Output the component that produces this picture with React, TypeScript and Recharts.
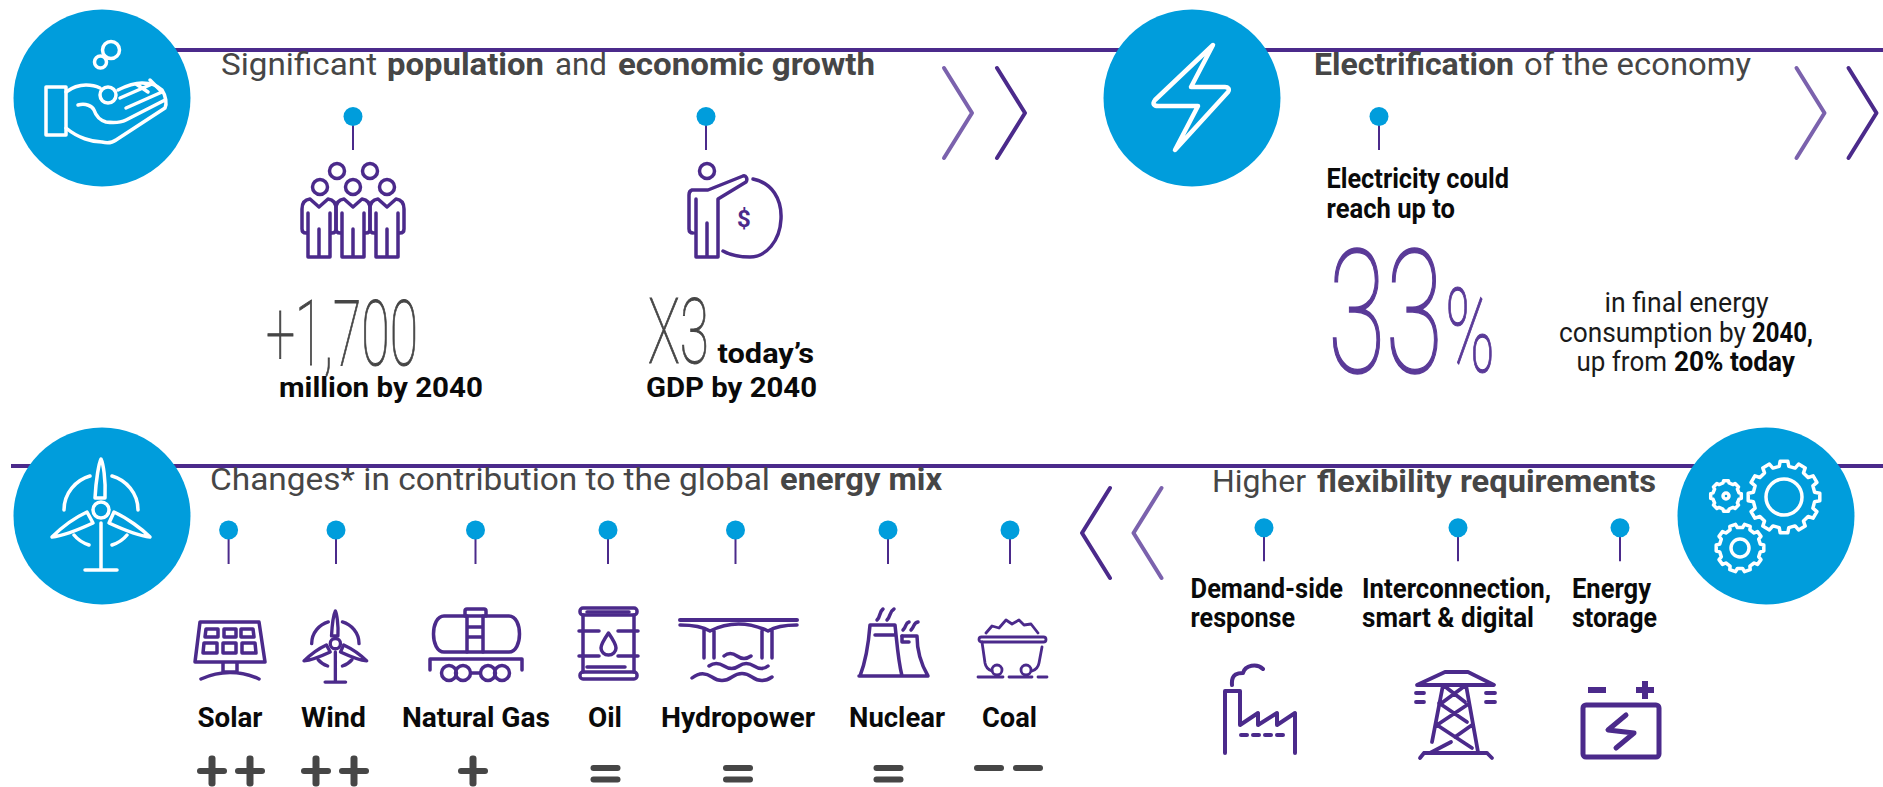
import React from 'react';
import { ComposedChart, ReferenceLine, Scatter, XAxis, YAxis } from 'recharts';

const WIDTH = 1883;
const HEIGHT = 787;
const BLUE = '#009ddc';
const PURPLE = '#4b2a8b';
const LIGHT_PURPLE = '#7b62ad';
const GREY = '#464646';

// energy sources and how their share changes
const SOURCES = ['Solar', 'Wind', 'Natural Gas', 'Oil', 'Hydropower', 'Nuclear', 'Coal'];
const RATINGS = ['++', '++', '+', '=', '=', '=', '--'];
const SOURCE_X1 = [197.5, 301, 402, 588, 661, 849, 982];
const SOURCE_X2 = [262.5, 366, 550, 622, 815, 945, 1037];
const RATING_X = [231, 335, 473, 605.5, 738, 888.5, 1008.5];

const PIN_TOP = [353, 706, 1379];
const PIN_MIX = [228.6, 336, 475.5, 608, 735.5, 888, 1010];
const PIN_FLEX = [1264, 1458, 1620];

const BADGES = [
  { x: 102, y: 98, icon: 'hand' },
  { x: 1192, y: 98, icon: 'bolt' },
  { x: 102, y: 516, icon: 'turbine' },
  { x: 1766, y: 516, icon: 'gears' },
];

const ICONS = [
  { x: 302, y: 163, icon: 'people' },
  { x: 688, y: 163, icon: 'money' },
  { x: 194, y: 620, icon: 'solar' },
  { x: 304, y: 611, icon: 'wind' },
  { x: 429, y: 609, icon: 'tank' },
  { x: 579, y: 607, icon: 'barrel' },
  { x: 680, y: 618, icon: 'hydro' },
  { x: 859, y: 608, icon: 'nuclear' },
  { x: 978, y: 619, icon: 'coal' },
  { x: 1225, y: 663, icon: 'factory' },
  { x: 1416, y: 671, icon: 'tower' },
  { x: 1581, y: 681, icon: 'battery' },
];

const CHEVRONS = [
  { x: 944, y: 68, dir: 1, color: LIGHT_PURPLE },
  { x: 997, y: 68, dir: 1, color: PURPLE },
  { x: 1796.5, y: 68, dir: 1, color: LIGHT_PURPLE },
  { x: 1848.5, y: 68, dir: 1, color: PURPLE },
  { x: 1110, y: 488, dir: -1, color: PURPLE },
  { x: 1161.5, y: 488, dir: -1, color: LIGHT_PURPLE },
];

const STYLES: Record<string, any> = {
  head: { size: 32, weight: 400, fill: GREY },
  headBold: { size: 32, weight: 700, fill: GREY },
  big: { size: 90, weight: 100, fill: GREY, thicken: 1 },
  label: { size: 27, weight: 700, fill: '#0a0a0a' },
  body: { size: 27, weight: 400, fill: '#1a1a1a' },
  num: { size: 173, weight: 100, fill: '#5a3a98', thicken: 1.6 },
  pct: { size: 116, weight: 100, fill: '#5a3a98', thicken: 1.2 },
};

// text, left, right, baseline, style
const RUNS: [string, number, number, number, string][] = [
  ['Significant', 221, 377, 75, 'head'],
  ['population', 387, 544, 75, 'headBold'],
  ['and', 555, 607, 75, 'head'],
  ['economic growth', 618, 875, 75, 'headBold'],
  ['Electrification', 1314, 1514, 75, 'headBold'],
  ['of the economy', 1524, 1751, 75, 'head'],
  ['Changes* in contribution to the global', 210, 770, 490, 'head'],
  ['energy mix', 780, 942, 490, 'headBold'],
  ['Higher', 1212, 1306, 492, 'head'],
  ['flexibility requirements', 1317, 1656, 492, 'headBold'],
  ['+1,700', 266, 418, 365, 'big'],
  ['million by 2040', 279, 483, 397, 'label'],
  ['X3', 648, 709, 363, 'big'],
  ['today\u2019s', 717.5, 814, 363, 'label'],
  ['GDP by 2040', 646, 817, 397, 'label'],
  ['Electricity could', 1326.5, 1509, 188, 'label'],
  ['reach up to', 1326.5, 1455, 218, 'label'],
  ['33', 1328, 1443, 372, 'num'],
  ['%', 1445, 1495, 372, 'pct'],
  ['in final energy', 1604.5, 1768.5, 312, 'body'],
  ['consumption by', 1559, 1746, 342, 'body'],
  ['2040,', 1752, 1813, 342, 'label'],
  ['up from', 1576.5, 1667, 371, 'body'],
  ['20% today', 1674, 1795, 371, 'label'],
  ['Demand-side', 1190.6, 1343, 598, 'label'],
  ['response', 1190.6, 1295, 627, 'label'],
  ['Interconnection,', 1362, 1551, 598, 'label'],
  ['smart & digital', 1362, 1534, 627, 'label'],
  ['Energy', 1572, 1651, 598, 'label'],
  ['storage', 1572, 1657, 627, 'label'],
];

const textData = [
  ...RUNS.map(([text, x, x2, y, style]) => ({ text, x, x2, y, style })),
  ...SOURCES.map((text, i) => ({ text, x: SOURCE_X1[i], x2: SOURCE_X2[i], y: 727, style: 'label' })),
];
const pinData = [
  ...PIN_TOP.map((x) => ({ x, y: 116.5, stem: 33.5 })),
  ...PIN_MIX.map((x) => ({ x, y: 530, stem: 34 })),
  ...PIN_FLEX.map((x) => ({ x, y: 527.7, stem: 33.5 })),
];
const ratingData = RATINGS.map((rating, i) => ({ x: RATING_X[i], y: 771, rating }));

const gearPath = (cx: number, cy: number, r: number, teeth: number) => {
  const root = r * 0.86;
  const step = (Math.PI * 2) / teeth;
  let d = '';
  for (let i = 0; i < teeth; i++) {
    const a = i * step;
    const pts = [
      [root, a - step * 0.3],
      [r, a - step * 0.2],
      [r, a + step * 0.2],
      [root, a + step * 0.3],
    ];
    pts.forEach(([rad, ang], j) => {
      d += `${i === 0 && j === 0 ? 'M' : 'L'}${(cx + rad * Math.cos(ang)).toFixed(1)} ${(cy + rad * Math.sin(ang)).toFixed(1)}`;
    });
  }
  return d + 'Z';
};

const Turbine = () => (
  <>
    <circle cx={49} cy={51} r={8} />
    <path d="M43 39C44 20 47 4 49 0C51 4 54 20 53 39Z" />
    <path d="M35 53C22 59 8 70 0 78C10 77 28 70 41 64Z" />
    <path d="M62 53C75 59 90 70 98 78C88 77 70 70 57 64Z" />
    <path d="M49 64V111M33 111H65M12 51C12 34 24 21 38 17M86 51C86 34 74 21 60 17M22 76C26 81 31 84 37 86M75 76C71 81 66 84 60 86" />
  </>
);

const iconArt: Record<string, React.ReactNode> = {
  hand: (
    <>
      <circle cx={65} cy={10} r={8.5} />
      <circle cx={54.5} cy={22} r={6} />
      <circle cx={62} cy={55} r={8} />
      <rect x={0} y={47} width={20} height={48} />
      <path d="M20 52C28 46 34 45 40 45C46 45 50 46 54 48M72 50C80 46 90 43 96 43C104 43 112 46 116 50C120 56 121 64 119 68L70 100C66 103 60 103 56 102C46 102 32 98 20 88" />
      <path d="M32 65C40 63 46 66 48 70C50 76 53 80 60 82C68 83 76 82 80 80L119 60M74 58L106 44M80 68L116 52M90 44L102 52M104 40L114 50" />
    </>
  ),
  bolt: <path d="M60 1L2 56C-1 60 1 62 5 62H45L22 106L75 48C77 45 75 43 72 43H38Z" strokeWidth={4.5} />,
  turbine: <Turbine />,
  gears: (
    <>
      <path d={gearPath(54, 37, 36, 12)} />
      <ellipse cx={54} cy={37} rx={18} ry={18} />
      <path d={gearPath(-4, 36, 15.5, 8)} />
      <circle cx={-4} cy={36} r={3} />
      <path d={gearPath(10, 88, 24, 10)} />
      <circle cx={10} cy={88} r={9} />
    </>
  ),
  people: (
    <>
      {[[35, 8], [68, 8], [18, 24], [51, 24], [85, 24]].map(([cx, cy]) => (
        <circle key={`${cx}-${cy}`} cx={cx} cy={cy} r={7.5} />
      ))}
      {[17, 51, 85].map((c) => (
        <path
          key={c}
          d={`M${c - 9} 36L${c} 44L${c + 9} 36M${c - 9} 36Q${c - 17} 37 ${c - 17} 46V66Q${c - 17} 70 ${c - 13} 70M${c + 9} 36Q${c + 17} 37 ${c + 17} 46V66Q${c + 17} 70 ${c + 13} 70M${c - 11} 50V94H${c + 11}V50M${c} 66V94`}
        />
      ))}
    </>
  ),
  money: (
    <>
      <circle cx={19} cy={8} r={7.5} />
      <path d="M4 27H20L55 13C58 12 60 16 58 19L30 36V94H8V36M4 27Q1 28 1 32V66Q1 70 5 70M19 60V94" />
      <path d="M65 16C84 20 94 36 93 56C92 78 78 94 62 94C52 94 42 92 35 88" />
      <text x={56} y={64} fontFamily="Roboto" fontWeight={700} fontSize={24} textAnchor="middle" fill={PURPLE} stroke="none">
        $
      </text>
    </>
  ),
  solar: (
    <>
      <path d="M6 2H65L71 42H1Z" />
      <path d="M12 9H24V17H11ZM30 9H42V17H30ZM47 9H59L60 17H47ZM10 23H23V33H9ZM29 23H42V33H29ZM48 23H61L62 33H48Z" />
      <path d="M29 43V52H43V43M7 59Q36 46 65 59" />
    </>
  ),
  wind: (
    <g transform="scale(0.64)" strokeWidth={5.2}>
      <Turbine />
    </g>
  ),
  tank: (
    <>
      <path d="M15 7H80C94 7 94 43 80 43H15C1 43 1 7 15 7Z" />
      <path d="M38 7V43M54 7V43M38 18H54M38 28H54M36 7V2Q36 0 38 0H55Q57 0 57 2V7" />
      <path d="M1 61V50H93V61" />
      <circle cx={20} cy={64} r={7.5} />
      <circle cx={34} cy={64} r={7.5} />
      <circle cx={59} cy={64} r={7.5} />
      <circle cx={73} cy={64} r={7.5} />
      <path d="M42 64H51" />
    </>
  ),
  barrel: (
    <>
      <rect x={1} y={1} width={57} height={7} rx={3} />
      <rect x={1} y={65} width={57} height={7} rx={3} />
      <path d="M8 5H50M8 60H46M4 8V65M55 8V65M0 24H20M39 24H59M0 49H20M39 49H59" />
      <path d="M29.5 26C24 34 22 38 22 41A7.5 7 0 0 0 37 41C37 38 35 34 29.5 26Z" />
    </>
  ),
  hydro: (
    <>
      <path d="M0 2H117" strokeWidth={4} />
      <path d="M0 7Q20 7 30 13Q58 -1 88 13Q98 7 117 7M24 11V40M34 13V40M82 13V40M92 11V40" />
      <path d="M44 38Q50 33 57 38T71 38M29 48Q36 43 44 48T59 48T74 48T88 48M12 60Q22 52 32 59T52 59T72 59T92 59" />
    </>
  ),
  nuclear: (
    <>
      <path d="M0 68H69M1 68C8 50 10 30 11 17H36C38 35 39 52 43 68M16 27H35M43 28H58C58 44 62 56 69 68" />
      <path d="M43 28V34H50M18 12C22 8 20 4 24 1M28 12C32 8 30 4 35 1M44 22C48 18 46 15 50 14M52 22C56 18 54 15 59 14" />
    </>
  ),
  coal: (
    <g strokeWidth={2.8}>
      <rect x={1} y={18} width={67} height={5} rx={2.5} />
      <path d="M4 23L7 44Q8 50 14 52M64 28L61 44Q60 50 54 52" />
      <circle cx={19} cy={51} r={5} />
      <circle cx={48} cy={51} r={5} />
      <path d="M0 58H25M31 58H54M60 58H69M8 14L14 7L21 9L28 1L34 5L41 1L46 6L53 5L60 14" />
    </g>
  ),
  factory: (
    <path d="M0 90V28H15V62L33 50V62L52 50V62L70 50V90M16 72H22M28 72H34M40 72H46M52 72H58M7 22C6 10 14 10 18 10C20 2 32 0 38 6" strokeWidth={4} />
  ),
  tower: (
    <path
      d="M29 1H52L78 14H1ZM27 14L16 71M50 14L62 81M27 14L49 31M50 14L23 34M23 32L51 51M51 34L21 54M21 54L56 77M56 54L39 66M35 71L14 82M8 82H71M8 82L4 87M71 82L76 87M0 22H8M0 31H8M70 22H79M70 31H79"
      strokeWidth={3.8}
    />
  ),
  battery: (
    <>
      <rect x={2} y={24} width={76} height={52} rx={3} strokeWidth={5} />
      <path d="M7 9H25M55 9H73M64 0V18" strokeWidth={6} strokeLinecap="butt" />
      <path d="M45 34L27 49L53 52L35 67" strokeWidth={5} />
    </>
  ),
};

const WHITE_ICONS = ['hand', 'bolt', 'turbine', 'gears'];
const BADGE_OFFSET: Record<string, number[]> = {
  hand: [-56, -58],
  bolt: [-39, -54],
  turbine: [-50, -57],
  gears: [-36, -56],
};

const IconShape = ({ cx, cy, payload }: any) => (
  <g
    transform={`translate(${cx},${cy})`}
    fill="none"
    stroke={WHITE_ICONS.includes(payload.icon) ? '#fff' : PURPLE}
    strokeWidth={3.5}
    strokeLinecap="round"
    strokeLinejoin="round"
  >
    {iconArt[payload.icon]}
  </g>
);

const BadgeShape = ({ cx, cy, payload }: any) => {
  const [dx, dy] = BADGE_OFFSET[payload.icon];
  return (
    <g>
      <circle cx={cx} cy={cy} r={88.5} fill={BLUE} />
      <IconShape cx={cx + dx} cy={cy + dy} payload={payload} />
    </g>
  );
};

const PinShape = ({ cx, cy, payload }: any) => (
  <g>
    <line x1={cx} x2={cx} y1={cy} y2={cy + payload.stem} stroke={PURPLE} strokeWidth={2} />
    <circle cx={cx} cy={cy} r={9.5} fill={BLUE} />
  </g>
);

const ChevronShape = ({ cx, cy, payload }: any) => (
  <path
    d={`M${cx} ${cy}L${cx + payload.dir * 28} ${cy + 45}L${cx} ${cy + 90}`}
    fill="none"
    stroke={payload.color}
    strokeWidth={4}
    strokeLinecap="round"
    strokeLinejoin="round"
  />
);

const RatingShape = ({ cx, cy, payload }: any) => {
  const bar = (x: number, y: number, key: string, vertical = false) => (
    <rect
      key={key}
      x={vertical ? x - 3.5 : x - 15}
      y={vertical ? y - 15.5 : y - 3}
      width={vertical ? 7 : 30}
      height={vertical ? 31 : 6}
      rx={3}
      fill={GREY}
    />
  );
  const { rating } = payload;
  if (rating === '=') {
    return <g>{[bar(cx, cy - 3, 'a'), bar(cx, cy + 8.5, 'b')]}</g>;
  }
  if (rating === '--') {
    return <g>{[bar(cx - 19.5, cy - 3, 'a'), bar(cx + 19.5, cy - 3, 'b')]}</g>;
  }
  const centres = rating === '++' ? [cx - 19, cx + 19] : [cx];
  return (
    <g>
      {centres.flatMap((c) => [bar(c, cy, `h${c}`), bar(c, cy, `v${c}`, true)])}
    </g>
  );
};

const TextShape = ({ cx, cy, payload }: any) => {
  const s = STYLES[payload.style];
  return (
    <text
      x={cx}
      y={cy}
      fontFamily="Roboto, 'Liberation Sans'"
      fontSize={s.size}
      fontWeight={s.weight}
      fill={s.fill}
      stroke={s.thicken ? s.fill : 'none'}
      strokeWidth={s.thicken || 0}
      textLength={payload.x2 - payload.x}
      lengthAdjust="spacingAndGlyphs"
    >
      {payload.text}
    </text>
  );
};

export default function App() {
  return (
    <div style={{ position: 'absolute', left: 0, top: 0, width: WIDTH, height: HEIGHT, overflow: 'hidden', background: '#fff' }}>
      <ComposedChart width={WIDTH} height={HEIGHT} margin={{ top: 0, right: 0, bottom: 0, left: 0 }} data={[]}>
        <XAxis type="number" dataKey="x" domain={[0, WIDTH]} hide />
        <YAxis type="number" dataKey="y" domain={[0, HEIGHT]} reversed hide />
        <ReferenceLine segment={[{ x: 170, y: 50 }, { x: WIDTH, y: 50 }]} stroke={PURPLE} strokeWidth={4} />
        <ReferenceLine segment={[{ x: 11, y: 466 }, { x: WIDTH, y: 466 }]} stroke={PURPLE} strokeWidth={4} />
        <Scatter data={BADGES} dataKey="y" shape={BadgeShape} isAnimationActive={false} />
        <Scatter data={ICONS} dataKey="y" shape={IconShape} isAnimationActive={false} />
        <Scatter data={pinData} dataKey="y" shape={PinShape} isAnimationActive={false} />
        <Scatter data={CHEVRONS} dataKey="y" shape={ChevronShape} isAnimationActive={false} />
        <Scatter data={ratingData} dataKey="y" shape={RatingShape} isAnimationActive={false} />
        <Scatter data={textData} dataKey="y" shape={TextShape} isAnimationActive={false} />
      </ComposedChart>
    </div>
  );
}
